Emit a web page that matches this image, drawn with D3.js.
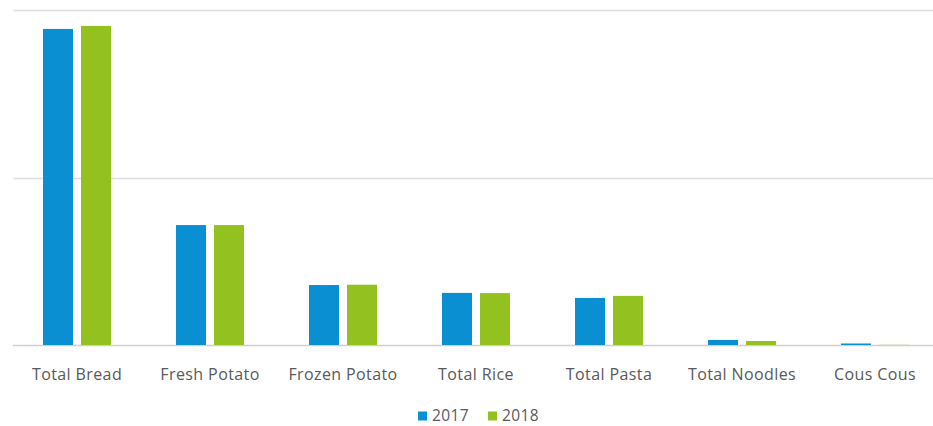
<!DOCTYPE html>
<html>
<head>
<meta charset="utf-8">
<script src="https://cdn.jsdelivr.net/npm/d3@7"></script>
<style>
  body { margin: 0; background: #fff; }
  text { font-family: "Open Sans", "Noto Sans", sans-serif; }
</style>
</head>
<body>
<script>
var categories = ["Total Bread", "Fresh Potato", "Frozen Potato", "Total Rice", "Total Pasta", "Total Noodles", "Cous Cous"];
var years = ["2017", "2018"];
var values2017 = [1887, 716, 358, 311, 281, 30, 9];
var values2018 = [1905, 716, 360, 310, 293, 24, 1];
var gridTicks = [0, 1000, 2000];

var colors = {"2017": "#0b8fd3", "2018": "#93c11f"};

var width = 933, height = 426;
var svg = d3.select("body").append("svg")
    .attr("width", width)
    .attr("height", height);

var x0 = d3.scaleBand().domain(categories).range([10.5, 941.5]);
var x1 = d3.scaleBand().domain(years).range([0, 68]).paddingInner(8 / 38);
var y = d3.scaleLinear().domain([0, 2000]).range([345, 10]);

// gridlines
svg.append("g").selectAll("line")
    .data(gridTicks)
    .enter()
    .append("line")
    .attr("x1", 13)
    .attr("x2", width)
    .attr("y1", function (d) { return Math.round(y(d)) + 0.5; })
    .attr("y2", function (d) { return Math.round(y(d)) + 0.5; })
    .style("stroke", function (d) { return d === 0 ? "#d0d0d0" : "#dedede"; })
    .style("stroke-width", 1.3);

var rows = categories.map(function (c, i) {
    return {cat: c, vals: [{year: "2017", v: values2017[i]}, {year: "2018", v: values2018[i]}]};
});

var groups = svg.append("g").selectAll("g")
    .data(rows)
    .enter()
    .append("g")
    .attr("transform", function (d) {
        return "translate(" + (x0(d.cat) + (x0.bandwidth() - 68) / 2) + ",0)";
    });

groups.selectAll("rect")
    .data(function (d) { return d.vals; })
    .enter()
    .append("rect")
    .attr("x", function (d) { return x1(d.year); })
    .attr("y", function (d) { return y(d.v); })
    .attr("width", x1.bandwidth())
    .attr("height", function (d) { return y(0) - y(d.v); })
    .attr("fill", function (d) { return colors[d.year]; });

// category labels
var xAxis = d3.axisBottom(x0).tickSize(0).tickPadding(0);
var ax = svg.append("g")
    .attr("transform", "translate(0,345)")
    .call(xAxis);
ax.select(".domain").remove();
ax.selectAll("text")
    .attr("dy", 0)
    .attr("y", 35)
    .style("font-size", "16px")
    .style("letter-spacing", "0.4px")
    .style("fill", "#595959");

// legend
var legend = svg.append("g").attr("transform", "translate(418,421)");
var items = legend.selectAll("g")
    .data(years)
    .enter()
    .append("g")
    .attr("transform", function (d, i) { return "translate(" + (i * 70) + ",0)"; });
items.append("rect")
    .attr("x", 0)
    .attr("y", -9.5)
    .attr("width", 9)
    .attr("height", 9)
    .attr("fill", function (d) { return colors[d]; });
items.append("text")
    .attr("x", 14)
    .attr("y", 0)
    .style("font-size", "15.5px")
    .style("letter-spacing", "0.4px")
    .style("fill", "#595959")
    .text(function (d) { return d; });
</script>
</body>
</html>
